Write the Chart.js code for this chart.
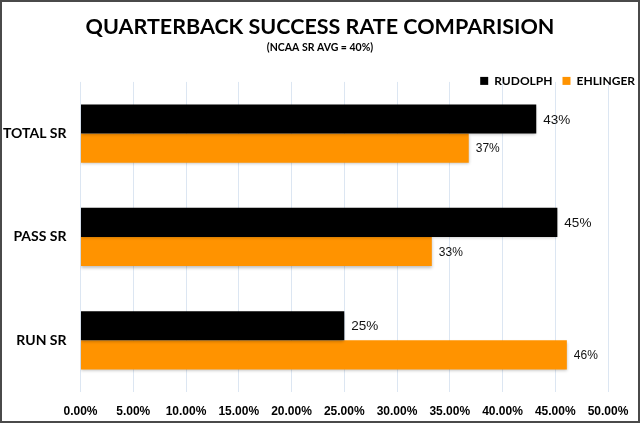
<!DOCTYPE html>
<html>
<head>
<meta charset="utf-8">
<script src="https://cdn.jsdelivr.net/npm/chart.js@4.4.0/dist/chart.umd.min.js"></script>
<style>
  html, body { margin: 0; padding: 0; background: #fff; }
  #wrap { width: 640px; height: 423px; }
</style>
</head>
<body>
<div id="wrap"><canvas id="srChart"></canvas></div>
<script>
// categories and series
var categories = ['TOTAL SR', 'PASS SR', 'RUN SR'];
var rudolph = [43.2, 45.2, 25.0];
var ehlinger = [36.8, 33.3, 46.1];
var xTicks = [0, 5, 10, 15, 20, 25, 30, 35, 40, 45, 50];

var barLabels = {
    id: 'barLabels',
    beforeInit: function (chart) {
        // let the legend row overlap the top of the plot, like the original
        var lg = chart.legend;
        if (lg) {
            var origFit = lg.fit;
            lg.fit = function () {
                origFit.apply(this, arguments);
                this.height = 17;
            };
        }
    },
    afterLayout: function (chart) {
        var lg = chart.legend;
        if (lg) {
            lg.left += 5;
            lg.right += 5;
            lg.bottom = lg.top + 40; // so the legend clip does not cut the text
        }
    },
    beforeDatasetsDraw: function (chart) {
        var ctx = chart.ctx;
        ctx.save();
        ctx.shadowColor = 'rgba(0,0,0,0.25)';
        ctx.shadowBlur = 3;
        ctx.shadowOffsetY = 1.5;
    },
    afterDatasetsDraw: function (chart) {
        var ctx = chart.ctx;
        ctx.restore();
        ctx.save();
        ctx.fillStyle = '#111';
        ctx.textBaseline = 'middle';
        ctx.textAlign = 'left';
        chart.data.datasets.forEach(function (ds, i) {
            var meta = chart.getDatasetMeta(i);
            ctx.font = (i === 0 ? '13.5px' : '12px') + ' "Liberation Sans", Arial, sans-serif';
            meta.data.forEach(function (bar, j) {
                ctx.fillText(Math.round(ds.data[j]) + '%', bar.x + 7, bar.y + 1);
            });
        });
        ctx.restore();
    },
    afterDraw: function (chart) {
        var ctx = chart.ctx;
        ctx.save();
        ctx.strokeStyle = '#4a4a4a';
        ctx.lineWidth = 2;
        ctx.strokeRect(1, 1, chart.width - 2, chart.height - 2);
        ctx.restore();
    }
};

var ctx = document.getElementById('srChart').getContext('2d');
var srChart = new Chart(ctx, {
    type: 'bar',
    data: {
        labels: categories,
        datasets: [{
            label: 'RUDOLPH',
            data: rudolph,
            backgroundColor: '#000000',
            categoryPercentage: 0.564,
            barPercentage: 1.0
        }, {
            label: 'EHLINGER',
            data: ehlinger,
            backgroundColor: '#FF9300',
            categoryPercentage: 0.564,
            barPercentage: 1.0
        }]
    },
    options: {
        indexAxis: 'y',
        responsive: true,
        maintainAspectRatio: false,
        animation: false,
        layout: { padding: { left: 0, right: 0, top: 0, bottom: 0 } },
        plugins: {
            tooltip: { enabled: false },
            title: {
                display: true,
                text: 'QUARTERBACK SUCCESS RATE COMPARISION',
                color: '#000',
                font: { family: 'Lato', size: 21.5, weight: 'bold' },
                padding: { top: 14, bottom: 0 }
            },
            subtitle: {
                display: true,
                text: '(NCAA SR AVG = 40%)',
                color: '#000',
                font: { family: 'Lato', size: 10.5, weight: 'bold' },
                padding: { top: 1.5, bottom: 11 }
            },
            legend: {
                position: 'top',
                align: 'end',
                labels: {
                    color: '#000',
                    boxWidth: 8,
                    boxHeight: 8,
                    padding: 10,
                    font: { family: 'Lato', size: 12, weight: 'bold' }
                }
            }
        },
        scales: {
            x: {
                min: 0,
                max: 50,
                afterBuildTicks: function (scale) {
                    scale.ticks = xTicks.map(function (v) { return { value: v }; });
                },
                afterFit: function (scale) {
                    scale.height = 31;
                    scale.paddingRight = 32;
                },
                grid: { color: '#dce6f2', drawTicks: false },
                border: { display: false },
                ticks: {
                    color: '#000',
                    padding: 12,
                    font: { family: '"Liberation Sans"', size: 12, weight: 'bold' },
                    callback: function (v) { return v.toFixed(2) + '%'; }
                }
            },
            y: {
                afterFit: function (scale) { scale.width = 80.5; },
                grid: { display: false, drawTicks: false },
                border: { display: false },
                ticks: {
                    color: '#000',
                    padding: 14,
                    font: { family: 'Lato', size: 14, weight: 'bold' }
                }
            }
        }
    },
    plugins: [barLabels]
});
</script>
</body>
</html>
